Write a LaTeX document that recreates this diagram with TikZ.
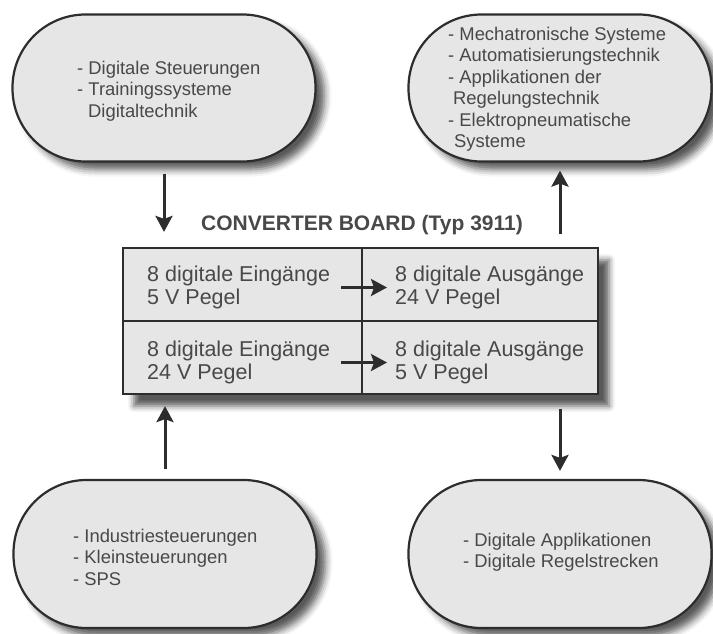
\documentclass[tikz,border=0pt]{standalone}
\usepackage{fontspec}
\setmainfont{Liberation Sans}
\usetikzlibrary{arrows.meta,shadows.blur}
\definecolor{fillc}{RGB}{230,230,230}
\definecolor{linec}{RGB}{45,45,45}
\definecolor{textc}{RGB}{72,72,72}
\begin{document}
\begin{tikzpicture}[x=1pt,y=-1pt,
  pill/.style={draw=linec, fill=fillc, line width=2.2pt, minimum width=303pt,
    minimum height=147pt, rounded corners=73pt, inner sep=0pt,
    blur shadow={shadow xshift=9pt, shadow yshift=-8pt, shadow blur radius=7pt, shadow opacity=65}},
  board/.style={draw=linec, fill=fillc, line width=2.2pt, inner sep=0pt,
    blur shadow={shadow xshift=11pt, shadow yshift=-12pt, shadow blur radius=6pt, shadow opacity=65}},
  cell/.style={draw=linec, line width=2.2pt, inner sep=0pt},
  ptext/.style={text=textc, font=\fontsize{18.4}{21.5}\selectfont, align=left, anchor=west, inner sep=0pt},
  ctext/.style={text=textc, font=\fontsize{21.5}{23.5}\selectfont, align=left, anchor=west, inner sep=0pt},
  arr/.style={draw=linec, line width=3pt, -{Stealth[length=16pt,width=17pt,inset=3pt]}}
]
\useasboundingbox (0,0) rectangle (713,633);

% pills
\node[pill] (tl) at (164,88) {};
\node[pill] (tr) at (560,88) {};
\node[pill, minimum height=148pt] (bl) at (165,554) {};
\node[pill, minimum height=148pt] (br) at (560,554) {};

\node[ptext] (tlt) at (77,91) {- Digitale Steuerungen\\- Trainingssysteme\\\hspace*{11pt}Digitaltechnik};
\node[ptext] (trt) at (448,89) {- Mechatronische Systeme\\- Automatisierungstechnik\\- Applikationen der\\\hspace*{5pt}Regelungstechnik\\- Elektropneumatische\\\hspace*{6pt}Systeme};
\node[ptext] (blt) at (73,557) {- Industriesteuerungen\\- Kleinsteuerungen\\- SPS};
\node[ptext] (brt) at (463,552) {- Digitale Applikationen\\- Digitale Regelstrecken};

% board
\node[board, minimum width=475pt, minimum height=146pt] (bd) at (360.5,321) {};
\node[cell, minimum width=239pt, minimum height=73pt] (c11) at (242.5,284.5) {};
\node[cell, minimum width=236pt, minimum height=73pt] (c12) at (480,284.5) {};
\node[cell, minimum width=239pt, minimum height=73pt] (c21) at (242.5,357.5) {};
\node[cell, minimum width=236pt, minimum height=73pt] (c22) at (480,357.5) {};

\node[text=textc, font=\bfseries\fontsize{21}{24}\selectfont] (title) at (362,225) {CONVERTER BOARD (Typ 3911)};

\node[ctext] (t11) at (147,287.5) {8 digitale Eingänge\\5 V Pegel};
\node[ctext] (t12) at (395,287.5) {8 digitale Ausgänge\\24 V Pegel};
\node[ctext] (t21) at (147,362.5) {8 digitale Eingänge\\24 V Pegel};
\node[ctext] (t22) at (395,362.5) {8 digitale Ausgänge\\5 V Pegel};

% arrows
\draw[arr, shorten <=11pt, shorten >=15pt] (tl.south) -- (tl.south |- bd.north);
\draw[arr, shorten <=10pt, shorten >=11pt] (bl.north) -- (bl.north |- bd.south);
\draw[arr, shorten <=14pt, shorten >=8pt] (br.north |- bd.south) -- (br.north);
\draw[arr, shorten <=13pt, shorten >=8pt] (tr.south |- bd.north) -- (tr.south);
\draw[arr, shorten <=11pt, shorten >=8pt] (t11.east) -- (t11.east -| t12.west);
\draw[arr, shorten <=11pt, shorten >=8pt] (t21.east) -- (t21.east -| t22.west);
\end{tikzpicture}
\end{document}
